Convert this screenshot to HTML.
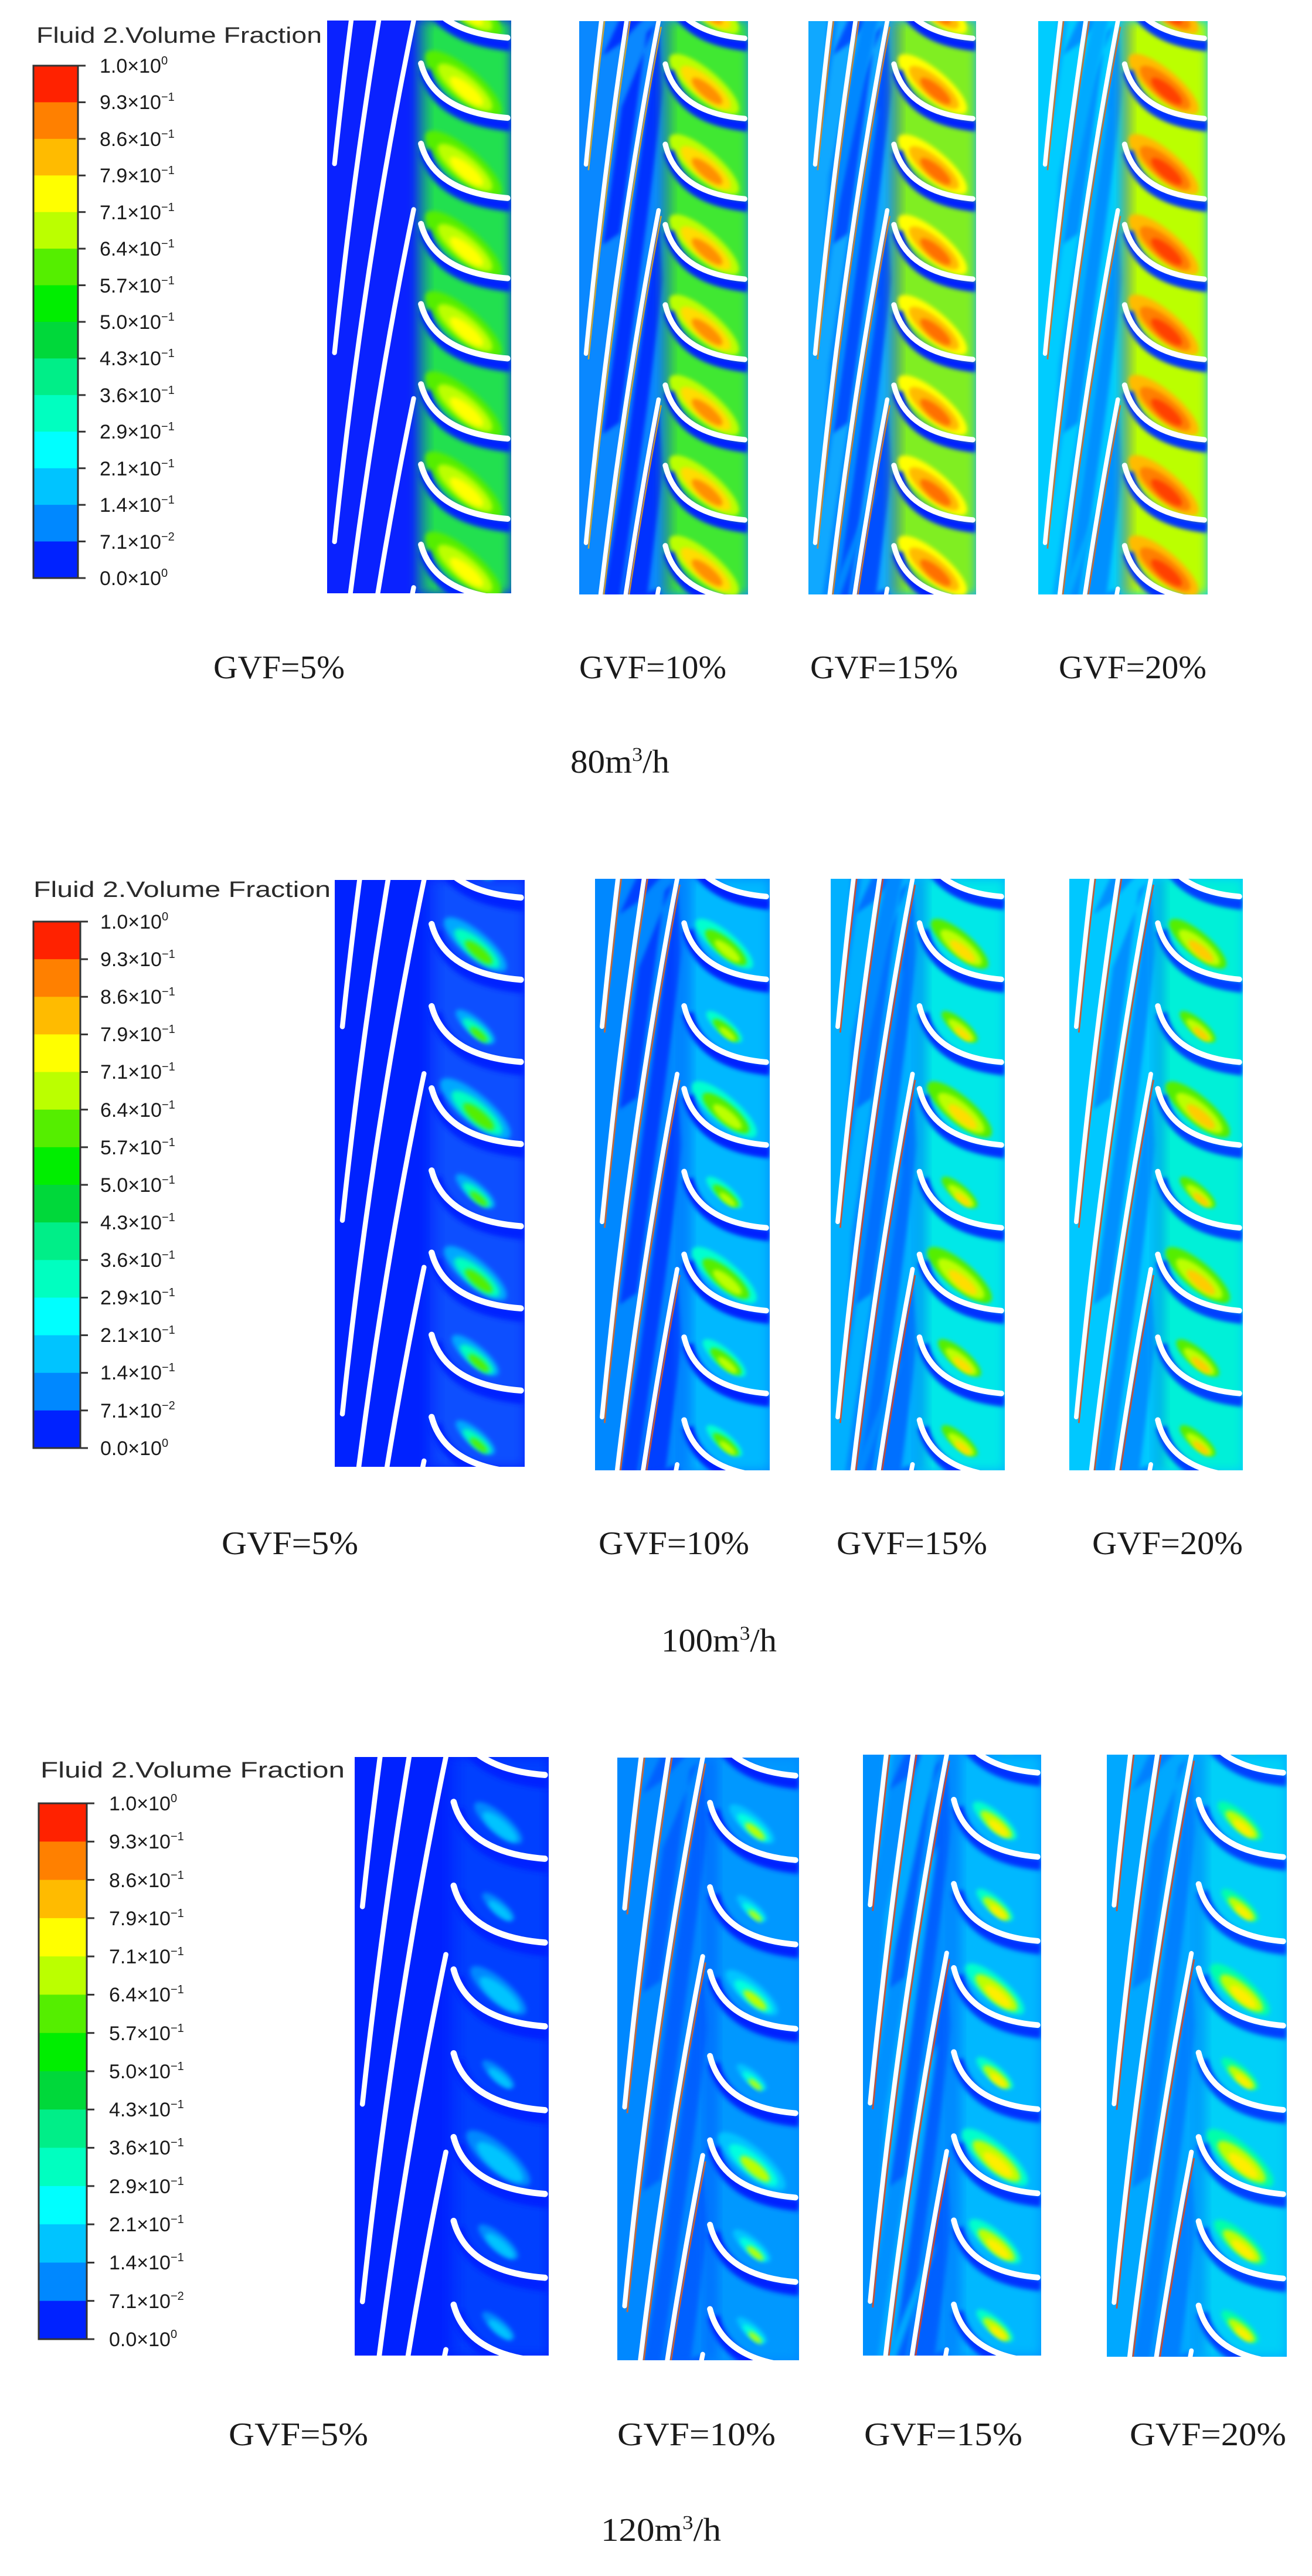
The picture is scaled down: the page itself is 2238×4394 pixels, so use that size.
<!DOCTYPE html>
<html><head><meta charset="utf-8">
<style>
html,body{margin:0;padding:0;background:#fff;width:2238px;height:4394px;overflow:hidden;}
svg{display:block;}
.lg{font-family:"Liberation Sans",Arial,sans-serif;fill:#1a1a1a;}
.tt{font-family:"Liberation Sans",Arial,sans-serif;fill:#2a2a2a;}
.sr{font-family:"Liberation Serif","Times New Roman",serif;fill:#1a1a1a;}
</style></head>
<body>
<svg id="S" xmlns="http://www.w3.org/2000/svg" width="2238" height="4394" viewBox="0 0 2238 4394">
<rect width="2238" height="4394" fill="#fff"/>
<g id="panels"></g>
<g id="legends"></g>
<text class="tt" x="62" y="73" font-size="38" textLength="487" lengthAdjust="spacingAndGlyphs">Fluid 2.Volume Fraction</text>
<text class="tt" x="57" y="1530" font-size="38" textLength="507" lengthAdjust="spacingAndGlyphs">Fluid 2.Volume Fraction</text>
<text class="tt" x="69" y="3032" font-size="38" textLength="519" lengthAdjust="spacingAndGlyphs">Fluid 2.Volume Fraction</text>
<text class="sr" x="364" y="1157" font-size="56" textLength="224" lengthAdjust="spacingAndGlyphs">GVF=5%</text>
<text class="sr" x="988" y="1157" font-size="56" textLength="251" lengthAdjust="spacingAndGlyphs">GVF=10%</text>
<text class="sr" x="1382" y="1157" font-size="56" textLength="252" lengthAdjust="spacingAndGlyphs">GVF=15%</text>
<text class="sr" x="1806" y="1157" font-size="56" textLength="252" lengthAdjust="spacingAndGlyphs">GVF=20%</text>
<text class="sr" x="973" y="1318" font-size="56" textLength="169" lengthAdjust="spacingAndGlyphs">80m<tspan dy="-20" font-size="34">3</tspan><tspan dy="20">/h</tspan></text>
<text class="sr" x="378" y="2651" font-size="56" textLength="233" lengthAdjust="spacingAndGlyphs">GVF=5%</text>
<text class="sr" x="1021" y="2651" font-size="56" textLength="257" lengthAdjust="spacingAndGlyphs">GVF=10%</text>
<text class="sr" x="1427" y="2651" font-size="56" textLength="257" lengthAdjust="spacingAndGlyphs">GVF=15%</text>
<text class="sr" x="1863" y="2651" font-size="56" textLength="257" lengthAdjust="spacingAndGlyphs">GVF=20%</text>
<text class="sr" x="1128" y="2817" font-size="56" textLength="197" lengthAdjust="spacingAndGlyphs">100m<tspan dy="-20" font-size="34">3</tspan><tspan dy="20">/h</tspan></text>
<text class="sr" x="390" y="4171" font-size="56" textLength="238" lengthAdjust="spacingAndGlyphs">GVF=5%</text>
<text class="sr" x="1053" y="4171" font-size="56" textLength="270" lengthAdjust="spacingAndGlyphs">GVF=10%</text>
<text class="sr" x="1474" y="4171" font-size="56" textLength="270" lengthAdjust="spacingAndGlyphs">GVF=15%</text>
<text class="sr" x="1927" y="4171" font-size="56" textLength="267" lengthAdjust="spacingAndGlyphs">GVF=20%</text>
<text class="sr" x="1025" y="4334" font-size="56" textLength="205" lengthAdjust="spacingAndGlyphs">120m<tspan dy="-20" font-size="34">3</tspan><tspan dy="20">/h</tspan></text>

<g class="lg" font-size="34">
<text x="170" y="124">1.0×10<tspan dy="-14" font-size="20">0</tspan></text>
<text x="170" y="186">9.3×10<tspan dy="-14" font-size="20">−1</tspan></text>
<text x="170" y="249">8.6×10<tspan dy="-14" font-size="20">−1</tspan></text>
<text x="170" y="311">7.9×10<tspan dy="-14" font-size="20">−1</tspan></text>
<text x="170" y="374">7.1×10<tspan dy="-14" font-size="20">−1</tspan></text>
<text x="170" y="436">6.4×10<tspan dy="-14" font-size="20">−1</tspan></text>
<text x="170" y="499">5.7×10<tspan dy="-14" font-size="20">−1</tspan></text>
<text x="170" y="561">5.0×10<tspan dy="-14" font-size="20">−1</tspan></text>
<text x="170" y="623">4.3×10<tspan dy="-14" font-size="20">−1</tspan></text>
<text x="170" y="686">3.6×10<tspan dy="-14" font-size="20">−1</tspan></text>
<text x="170" y="748">2.9×10<tspan dy="-14" font-size="20">−1</tspan></text>
<text x="170" y="811">2.1×10<tspan dy="-14" font-size="20">−1</tspan></text>
<text x="170" y="873">1.4×10<tspan dy="-14" font-size="20">−1</tspan></text>
<text x="170" y="936">7.1×10<tspan dy="-14" font-size="20">−2</tspan></text>
<text x="170" y="998">0.0×10<tspan dy="-14" font-size="20">0</tspan></text>
</g>
<g class="lg" font-size="34">
<text x="171" y="1584">1.0×10<tspan dy="-14" font-size="20">0</tspan></text>
<text x="171" y="1648">9.3×10<tspan dy="-14" font-size="20">−1</tspan></text>
<text x="171" y="1712">8.6×10<tspan dy="-14" font-size="20">−1</tspan></text>
<text x="171" y="1776">7.9×10<tspan dy="-14" font-size="20">−1</tspan></text>
<text x="171" y="1840">7.1×10<tspan dy="-14" font-size="20">−1</tspan></text>
<text x="171" y="1905">6.4×10<tspan dy="-14" font-size="20">−1</tspan></text>
<text x="171" y="1969">5.7×10<tspan dy="-14" font-size="20">−1</tspan></text>
<text x="171" y="2033">5.0×10<tspan dy="-14" font-size="20">−1</tspan></text>
<text x="171" y="2097">4.3×10<tspan dy="-14" font-size="20">−1</tspan></text>
<text x="171" y="2161">3.6×10<tspan dy="-14" font-size="20">−1</tspan></text>
<text x="171" y="2225">2.9×10<tspan dy="-14" font-size="20">−1</tspan></text>
<text x="171" y="2289">2.1×10<tspan dy="-14" font-size="20">−1</tspan></text>
<text x="171" y="2353">1.4×10<tspan dy="-14" font-size="20">−1</tspan></text>
<text x="171" y="2418">7.1×10<tspan dy="-14" font-size="20">−2</tspan></text>
<text x="171" y="2482">0.0×10<tspan dy="-14" font-size="20">0</tspan></text>
</g>
<g class="lg" font-size="34">
<text x="186" y="3088">1.0×10<tspan dy="-14" font-size="20">0</tspan></text>
<text x="186" y="3153">9.3×10<tspan dy="-14" font-size="20">−1</tspan></text>
<text x="186" y="3219">8.6×10<tspan dy="-14" font-size="20">−1</tspan></text>
<text x="186" y="3284">7.9×10<tspan dy="-14" font-size="20">−1</tspan></text>
<text x="186" y="3349">7.1×10<tspan dy="-14" font-size="20">−1</tspan></text>
<text x="186" y="3414">6.4×10<tspan dy="-14" font-size="20">−1</tspan></text>
<text x="186" y="3480">5.7×10<tspan dy="-14" font-size="20">−1</tspan></text>
<text x="186" y="3545">5.0×10<tspan dy="-14" font-size="20">−1</tspan></text>
<text x="186" y="3610">4.3×10<tspan dy="-14" font-size="20">−1</tspan></text>
<text x="186" y="3675">3.6×10<tspan dy="-14" font-size="20">−1</tspan></text>
<text x="186" y="3741">2.9×10<tspan dy="-14" font-size="20">−1</tspan></text>
<text x="186" y="3806">2.1×10<tspan dy="-14" font-size="20">−1</tspan></text>
<text x="186" y="3871">1.4×10<tspan dy="-14" font-size="20">−1</tspan></text>
<text x="186" y="3937">7.1×10<tspan dy="-14" font-size="20">−2</tspan></text>
<text x="186" y="4002">0.0×10<tspan dy="-14" font-size="20">0</tspan></text>
</g>
</svg>
<script>
(function(){
var NS="http://www.w3.org/2000/svg";
function el(tag,attrs,parent){var e=document.createElementNS(NS,tag);for(var k in attrs)e.setAttribute(k,attrs[k]);if(parent)parent.appendChild(e);return e;}
var bands=["#ff2200","#ff8000","#ffbb00","#ffff00","#bbff00","#55ee00","#00ee00","#00d83a","#00ee88","#00ffc0","#00ffff","#00c4ff","#0088ff","#0022ff"];
function legend(x0,x1,y0,y1){
  var g=document.getElementById("legends");
  var step=(y1-y0)/14;
  for(var i=0;i<14;i++) el("rect",{x:x0,y:y0+i*step,width:x1-x0,height:step+0.6,fill:bands[i]},g);
  el("rect",{x:x0,y:y0,width:x1-x0,height:y1-y0,fill:"none",stroke:"#333","stroke-width":3},g);
  for(var i=0;i<=14;i++){var y=y0+i*step;el("line",{x1:x1,y1:y,x2:x1+13,y2:y,stroke:"#333","stroke-width":3},g);}
}
legend(57,133,112,986);
legend(57,137,1572,2470);
legend(66,148,3076,3990);

function clampV(v){return Math.max(-0.01,Math.min(1.01,v));}
var cid=0;
function panel(X,Y,W,H,c){
  var P=document.getElementById("panels");
  cid++;
  var defs=el("defs",{},P);
  var cp=el("clipPath",{id:"c"+cid},defs);
  el("rect",{x:X,y:Y,width:W,height:H},cp);
  var bl=el("filter",{id:"f"+cid,x:"-50%",y:"-50%",width:"200%",height:"200%"},defs);
  el("feGaussianBlur",{stdDeviation:W*0.012},bl);
  var bl2=el("filter",{id:"g"+cid,x:"-50%",y:"-10%",width:"200%",height:"120%"},defs);
  el("feGaussianBlur",{stdDeviation:W*0.03},bl2);
  var g=el("g",{"clip-path":"url(#c"+cid+")"},P);
  function px(u){return X+u*W;} function py(v){return Y+v*H;}
  function poly(pts){return pts.map(function(p){return px(p[0]).toFixed(1)+","+py(clampV(p[1])).toFixed(1);}).join(" ");}
  el("rect",{x:X,y:Y,width:W,height:H,fill:c.left},g);
  var per=0.33, ph=c.ph||0.0;
  if(c.wedge){
    for(var k=-3;k<=3;k++){
      var v0=ph+k*per; if(v0>1) continue;
      var pts=[[0.47,v0],[0.25,v0+0.48],[0.14,v0+0.72],[0.24,v0+0.70],[0.40,v0+0.35],[0.50,v0+0.12]];
      el("polygon",{points:poly(pts),fill:c.wedge,filter:"url(#f"+cid+")"},g);
    }
  }
  if(c.mid){
    for(var k=-3;k<=3;k++){
      var v0=ph+k*per+0.15; if(v0>1) continue;
      var pts=[[0.42,v0],[0.18,v0+0.5],[0.08,v0+0.7],[0.12,v0+0.45],[0.33,v0+0.05]];
      el("polygon",{points:poly(pts),fill:c.mid,filter:"url(#f"+cid+")"},g);
    }
  }
  el("rect",{x:px(0.5),y:Y,width:W*0.5,height:H,fill:c.right,filter:"url(#g"+cid+")"},g);
  el("rect",{x:px(0.49),y:Y,width:W*0.06,height:H,fill:c.band,opacity:0.35,filter:"url(#g"+cid+")"},g);
  var rp=0.14, rph=0.075;
  for(var j=-1;j<7;j++){
    var v0=rph+j*rp;
    var s=c.sizes?c.sizes[((j%c.sizes.length)+c.sizes.length)%c.sizes.length]:1;
    if(s<=0) continue;
    var cx=px(0.74), cy=py(v0+0.035);
    var ang=40;
    for(var q=0;q<c.blob.length;q++){
      var f=1-q*0.28;
      el("ellipse",{cx:cx+W*0.02*q,cy:cy+W*0.01*q,rx:W*0.26*f*s,ry:W*0.085*f*s,fill:c.blob[q],transform:"rotate("+ang+" "+cx+" "+cy+")",filter:"url(#f"+cid+")"},g);
    }
  }
  for(var j=-1;j<7;j++){
    var v0=rph+j*rp;
    var d="M"+px(0.51)+","+py(v0)+" Q"+px(0.58)+","+py(v0+0.085)+" "+px(0.98)+","+py(v0+0.095);
    var d2="M"+px(0.53)+","+py(v0+0.012)+" Q"+px(0.60)+","+py(v0+0.097)+" "+px(1.0)+","+py(v0+0.108);
    el("path",{d:d2,fill:"none",stroke:c.band,"stroke-width":W*0.065,filter:"url(#f"+cid+")"},g);
    el("path",{d:d,fill:"none",stroke:"#fff","stroke-width":W*0.032,"stroke-linecap":"round"},g);
  }
  // long blades sampled & truncated to panel
  function blade(v0,du,dv){
    var pts=[];
    for(var i=0;i<=40;i++){
      var t=i/40;
      var u=(1-t)*(1-t)*0.47+2*(1-t)*t*0.20+t*t*0.04+du;
      var v=(1-t)*(1-t)*v0+2*(1-t)*t*(v0+0.42)+t*t*(v0+0.91)+dv;
      if(v>=-0.02&&v<=1.02) pts.push(px(u).toFixed(1)+","+py(v).toFixed(1));
    }
    return pts.join(" ");
  }
  for(var k=-3;k<=3;k++){
    var v0=ph+k*per;
    if(v0>1) continue;
    if(c.edge){var pe=blade(v0,0.015,0.01); if(pe) el("polyline",{points:pe,fill:"none",stroke:c.edge,"stroke-width":W*0.009,opacity:0.8},g);}
    var pb=blade(v0,0,0);
    if(pb) el("polyline",{points:pb,fill:"none",stroke:"#fff","stroke-width":W*0.026,"stroke-linecap":"round"},g);
  }
}
panel(558,35,314,977,{left:"#0a22ff",right:"#22e050",blob:["#55ee00","#bbff00","#ffff00"],band:"#0022ff"});
panel(988,36,288,978,{left:"#0a88ff",wedge:"#0030ff",right:"#40e830",blob:["#bbff00","#ffdd00","#ff9000"],band:"#0022ff",edge:"#ffaa00"});
panel(1379,36,286,978,{left:"#10a8ff",wedge:"#0050ff",mid:"#0088ff",right:"#80ee20",blob:["#ffff00","#ffbb00","#ff7000"],band:"#0022ff",edge:"#ff8000"});
panel(1771,36,289,978,{left:"#00ccff",wedge:"#0090ff",mid:"#00aaff",right:"#bbff00",blob:["#ffbb00","#ff8000","#ff4000"],band:"#0030ff",edge:"#ff6000"});
panel(571,1501,324,1001,{left:"#0022ff",right:"#1050ff",blob:["#00a8ff","#00ffc0","#55ee00"],sizes:[0.8,0.5,0.9,0.5,0.8,0.6,0.5],band:"#0022ff"});
panel(1015,1499,298,1009,{left:"#0088ff",wedge:"#0040ff",right:"#00b8ff",blob:["#00ffd0","#55ee00","#bbff00"],sizes:[0.8,0.5,0.9,0.5,0.9,0.6,0.5],band:"#0022ff",edge:"#ff6000"});
panel(1417,1499,297,1009,{left:"#00b0ff",wedge:"#0070ff",mid:"#0088ff",right:"#00e8e8",blob:["#55ee00","#bbff00","#ffdd00"],sizes:[0.8,0.5,0.9,0.5,0.9,0.6,0.5],band:"#0030ff",edge:"#ff4000"});
panel(1824,1499,296,1009,{left:"#00c8ff",wedge:"#0090ff",right:"#00f0d8",blob:["#55ee00","#bbff00","#ffcc00"],sizes:[0.8,0.5,0.9,0.5,0.9,0.6,0.5],band:"#0040ff",edge:"#ff4000"});
panel(605,2997,331,1021,{left:"#0022ff",right:"#0040ff",blob:["#0088ff","#00c4ff"],sizes:[0.6,0.4,0.7,0.4,0.8,0.5,0.4],band:"#0022ff"});
panel(1053,2998,310,1028,{left:"#0088ff",wedge:"#0060ff",right:"#0098ff",blob:["#00c4ff","#00ffe0","#bbff00"],sizes:[0.6,0.4,0.7,0.4,0.9,0.5,0.4],band:"#0022ff",edge:"#ff6000"});
panel(1472,2993,304,1025,{left:"#0090ff",wedge:"#0060ff",mid:"#00aaff",right:"#00b8ff",blob:["#00ffcc","#bbff00","#ffee00"],sizes:[0.6,0.5,0.8,0.5,0.9,0.7,0.5],band:"#0030ff",edge:"#ff4000"});
panel(1888,2993,307,1027,{left:"#00a8ff",wedge:"#0080ff",right:"#00d0f8",blob:["#00ffaa","#bbff00","#ffee00"],sizes:[0.6,0.5,0.8,0.5,0.9,0.7,0.5],band:"#0040ff",edge:"#ff4000"});
})();
</script>
</body></html>
